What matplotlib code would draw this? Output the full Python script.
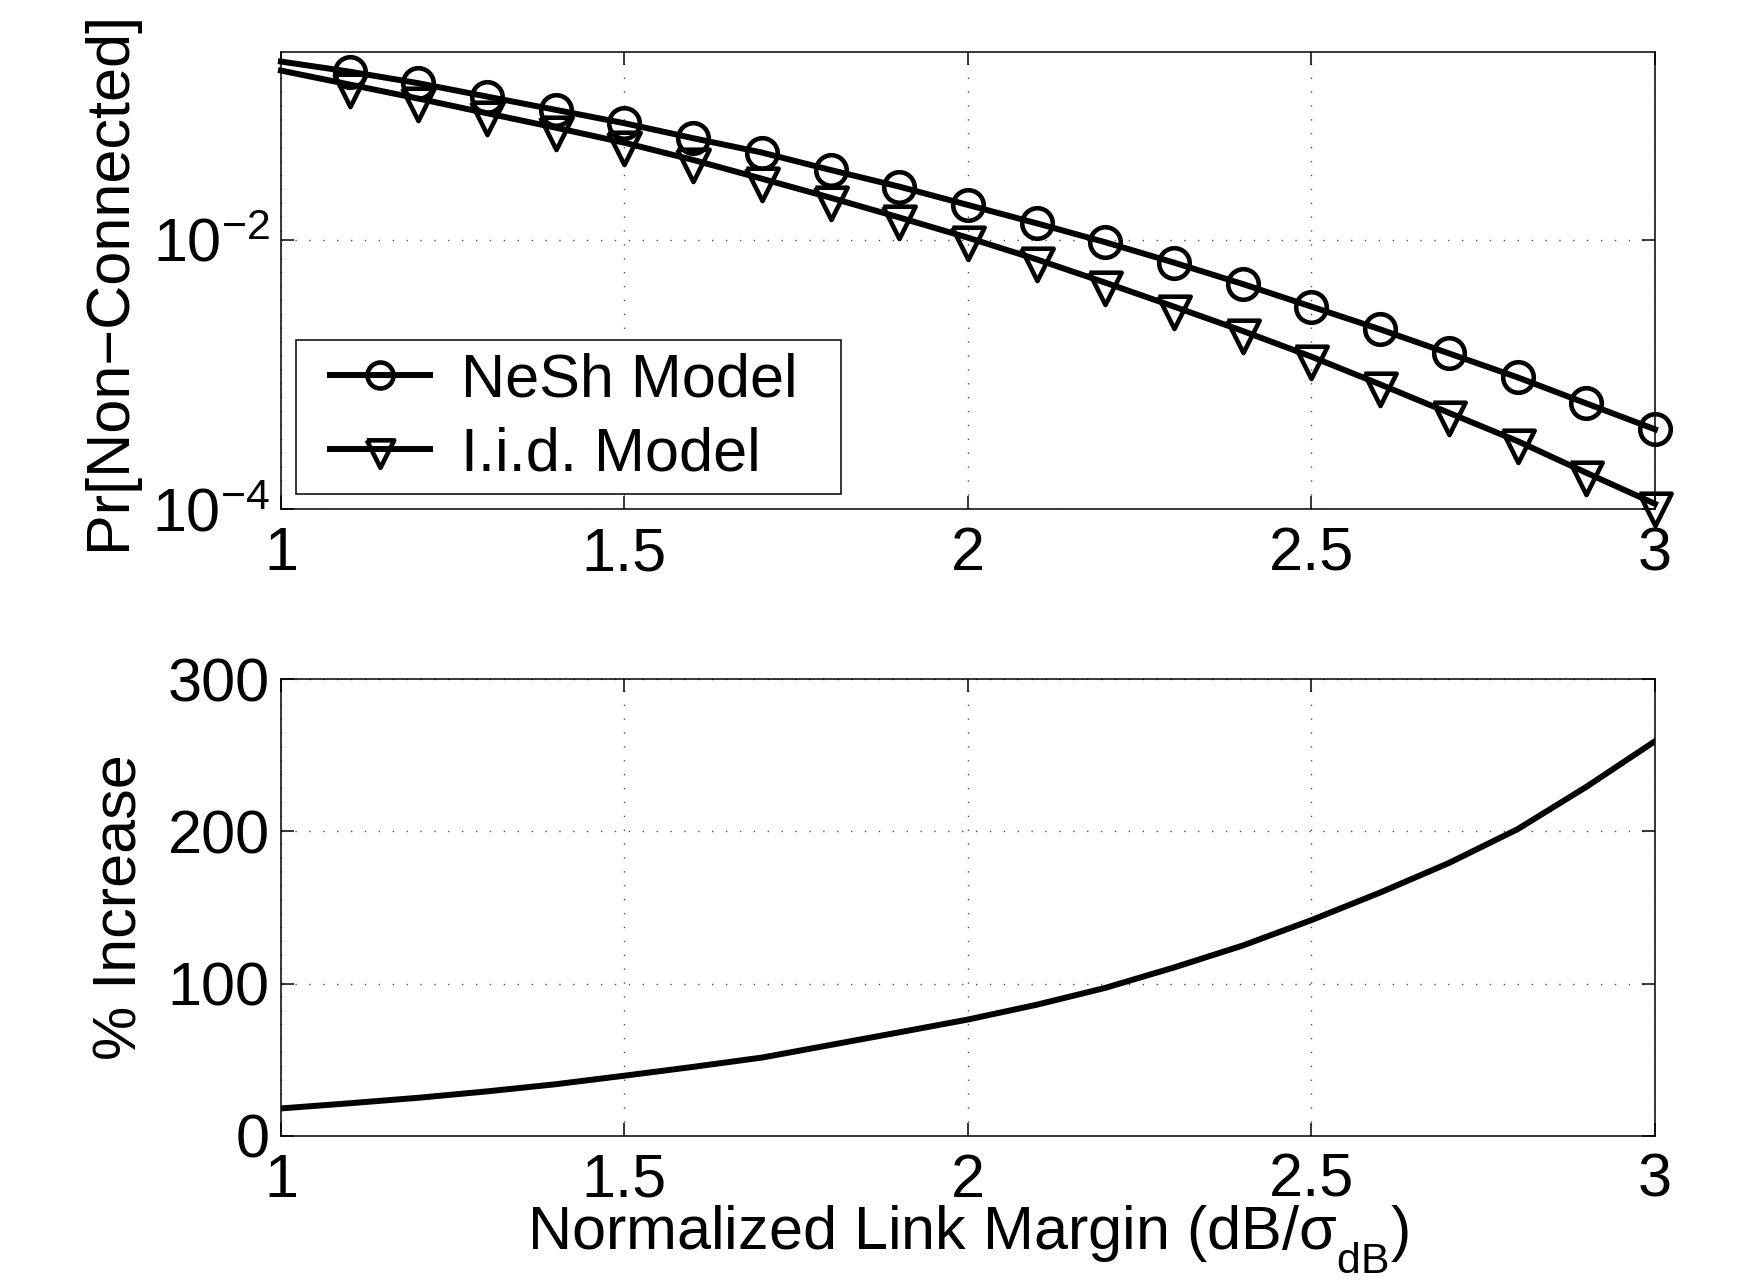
import matplotlib
matplotlib.use('Agg')
import matplotlib.pyplot as plt
from matplotlib.ticker import NullLocator, FixedLocator
from matplotlib.patches import Rectangle

plt.rcParams['font.family'] = ['Liberation Sans', 'DejaVu Sans']
plt.rcParams['mathtext.fontset'] = 'custom'
plt.rcParams['mathtext.rm'] = 'Liberation Sans'
plt.rcParams['mathtext.it'] = 'Liberation Sans:italic'
plt.rcParams['mathtext.sf'] = 'Liberation Sans'
plt.rcParams['axes.unicode_minus'] = True

# MATLAB drops its subscripts further than mathtext does
try:
    import matplotlib._mathtext as _mt
    _mt.FontConstantsBase.sub1 = 0.75
except (ImportError, AttributeError):
    pass

# Normalized link margin (dB / sigma_dB)
margin = [1.0, 1.1, 1.2, 1.3, 1.4, 1.5, 1.6, 1.7, 1.8, 1.9, 2.0,
          2.1, 2.2, 2.3, 2.4, 2.5, 2.6, 2.7, 2.8, 2.9, 3.0]

# Pr[Non-Connected]
nesh = [0.2113, 0.1778, 0.1459, 0.1161, 0.0925, 0.0736, 0.0570, 0.0446,
        0.0331, 0.0249, 0.0182, 0.0133, 0.00962, 0.00679, 0.00471, 0.00320,
        0.00217, 0.00144, 0.000955, 0.000612, 0.000393]
iid = [0.1811, 0.1426, 0.1122, 0.0873, 0.0682, 0.0527, 0.0393, 0.0285,
       0.0206, 0.0147, 0.0104, 0.00718, 0.00482, 0.00320, 0.00211, 0.00136,
       0.000847, 0.000521, 0.000321, 0.000187, 0.000110]

# % increase of NeSh over i.i.d.
increase = [18.0, 21.4, 25.0, 29.2, 33.9, 39.5, 45.3, 51.4, 59.7, 68.0, 76.4,
            86.1, 97.2, 110.6, 125.0, 141.7, 159.8, 179.2, 201.4, 229.2, 259.2]

FS = 44
LW = 4.3

# downward triangle with its centroid on the data point (MATLAB style)
tri_down = [(-1, 0.667), (1, 0.667), (0, -1.333), (-1, 0.667)]
marks = list(range(1, len(margin)))   # no marker at the first point

fig = plt.figure(figsize=(17.45, 12.83), dpi=100)
ax1 = fig.add_axes([0.161, 0.603, 0.7874, 0.3567])
ax2 = fig.add_axes([0.161, 0.1147, 0.7874, 0.356])

grid_style = dict(color='0.3', linestyle=(0, (1, 9)), linewidth=1.0)

ax1.plot(margin, nesh, '-', color='k', linewidth=LW, marker='o', markersize=22,
         markerfacecolor='none', markeredgewidth=3.3, markevery=marks,
         label='NeSh Model', clip_on=False)
ax1.plot(margin, iid, '-', color='k', linewidth=LW, marker=tri_down, markersize=31,
         markerfacecolor='none', markeredgewidth=3.3, markevery=marks,
         label='I.i.d. Model', clip_on=False)
ax1.set_yscale('log')
ax1.set_ylim(1e-4, 0.25)
ax1.yaxis.set_major_locator(FixedLocator([1e-4, 1e-2]))
ax1.yaxis.set_minor_locator(NullLocator())
ax1.set_ylabel('Pr[Non\u2212Connected]', fontsize=FS)
ax1.yaxis.set_label_coords(-0.104, 0.5)

# legend box drawn separately so its padding can match the original
ax1.add_patch(Rectangle((0.0109, 0.0334), 0.3967, 0.3366, transform=ax1.transAxes,
                        facecolor='white', edgecolor='k', linewidth=1.1, zorder=4))
leg = ax1.legend(loc='center left', bbox_to_anchor=(0.0357, 0.2005), fontsize=FS,
                 frameon=False, handlelength=1.64, handletextpad=0.5,
                 borderpad=0, labelspacing=0.28, borderaxespad=0, markerscale=0.85)
leg.set_zorder(5)

ax2.plot(margin, increase, '-', color='k', linewidth=LW)
ax2.set_ylim(0, 300)
ax2.set_yticks([0, 100, 200, 300])
ax2.set_ylabel('% Increase', fontsize=FS)
ax2.yaxis.set_label_coords(-0.096, 0.5)
ax2.set_xlabel('Normalized Link Margin (dB/\u03c3$_{\\mathrm{dB}}$)', fontsize=FS, labelpad=-4)

for ax in (ax1, ax2):
    ax.set_xlim(1, 3)
    ax.set_xticks([1, 1.5, 2, 2.5, 3])
    ax.set_xticklabels(['1', '1.5', '2', '2.5', '3'])
    ax.grid(True, **grid_style)
    ax.tick_params(which='both', direction='in', top=True, right=True,
                   length=9.4, width=1.1, labelsize=FS)
    ax.tick_params(axis='x', pad=12)
    ax.tick_params(axis='y', pad=8)
    for s in ax.spines.values():
        s.set_linewidth(1.1)

fig.savefig('out.png', dpi=100)
